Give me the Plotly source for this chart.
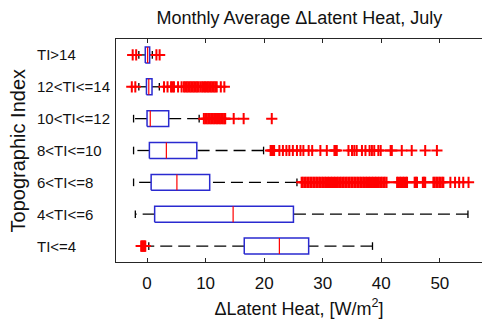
import plotly.graph_objects as go

# ---------------- data ----------------
categories = ["TI<=4", "4<TI<=6", "6<TI<=8", "8<TI<=10", "10<TI<=12", "12<TI<=14", "TI>14"]
q1 = [16.6, 1.3, 0.7, 0.4, 0.0, -0.1, -0.3]
medians = [22.6, 14.7, 5.1, 3.3, 0.55, 0.3, 0.1]
q3 = [27.6, 25.0, 10.7, 8.5, 3.7, 0.85, 0.45]
lower_whisker = [0.3, -2.0, -2.3, -2.3, -2.3, -1.4, -1.4]
upper_whisker = [38.5, 54.8, 25.6, 19.9, 8.9, 2.1, 0.9]

out_le4 = [-1.0, -0.85, -0.7, -0.55, -0.4, -0.3]
out_4_6 = []
out_6_8 = [26.4, 26.6, 26.9, 27.1, 27.4, 27.6, 27.9, 28.1, 28.4, 28.6, 28.9, 29.1,
           29.4, 29.6, 29.9, 30.1, 30.4, 30.6, 30.9, 31.1, 31.4, 31.6, 31.9, 32.1,
           32.4, 32.6, 32.9, 33.1, 33.4, 33.6, 33.9, 34.1, 34.4, 34.6, 34.9, 35.1,
           35.4, 35.6, 35.9, 36.1, 36.4, 36.6, 36.9, 37.1, 37.4, 37.6, 37.9, 38.1,
           38.4, 38.6, 38.9, 39.1, 39.4, 39.6, 39.9, 40.1, 40.4, 40.6, 40.9,
           42.7, 42.9, 43.2, 43.4, 43.7, 43.9, 44.2, 44.4,
           45.7, 45.9, 46.1, 47.1, 47.3, 47.5,
           48.9, 49.1, 49.4, 49.6, 49.9, 50.1, 50.4, 50.6,
           51.8, 52.6, 53.3, 54.0, 54.9]
out_8_10 = [21.1, 21.3, 21.5, 21.7, 22.6, 23.2, 23.8, 24.3, 24.9, 25.6, 26.2, 26.7,
            27.6, 28.2, 29.6, 30.7, 32.0, 32.2, 32.4, 34.4, 35.0, 35.4, 35.8,
            36.7, 37.3, 38.0, 38.4, 38.8, 39.5, 39.9, 41.6, 41.8,
            43.5, 45.2, 47.5, 49.5]
out_10_12 = [9.7, 9.95, 10.2, 10.45, 10.7, 10.95, 11.2, 11.45, 11.7, 11.95, 12.2,
             12.45, 12.7, 12.95, 13.2, 13.35, 14.8, 16.5, 21.3]
out_12_14 = [-2.6, -2.0, 2.9, 3.5, 4.1, 4.35, 4.6, 5.3, 5.9, 6.3, 6.55, 6.8, 7.05,
             7.3, 7.55, 7.8, 8.05, 8.3, 8.55, 8.8, 9.1, 9.4, 9.65, 9.9, 10.15, 10.4,
             10.65, 10.9, 11.15, 11.4, 11.65, 11.9, 12.6, 13.2]
out_gt14 = [-2.45, -1.85, 1.6, 2.15]
outliers = [out_le4, out_4_6, out_6_8, out_8_10, out_10_12, out_12_14, out_gt14]

x_ticks = [0, 10, 20, 30, 40, 50]

# ---------------- styles ----------------
HALF_BOX = 0.25
HALF_CAP = 0.12
BLUE = "#2a2ad0"
RED = "#ff0000"
BLACK = "#000000"
AXIS = "#262626"
FONT = "Liberation Sans, Arial, sans-serif"
NARROW = "Liberation Sans Narrow, Arial Narrow, Liberation Sans, sans-serif"

fig = go.Figure()

for i, cat in enumerate(categories):
    y = i + 1
    # whiskers (dashed)
    fig.add_trace(go.Scatter(x=[q1[i], lower_whisker[i]], y=[y, y], mode="lines",
                             line=dict(color=BLACK, width=1.3, dash="12px,6px"),
                             hoverinfo="skip", showlegend=False))
    fig.add_trace(go.Scatter(x=[upper_whisker[i], q3[i]], y=[y, y], mode="lines",
                             line=dict(color=BLACK, width=1.3, dash="12px,6px"),
                             hoverinfo="skip", showlegend=False))
    # whisker caps
    fig.add_trace(go.Scatter(x=[lower_whisker[i], lower_whisker[i], None,
                                upper_whisker[i], upper_whisker[i]],
                             y=[y - HALF_CAP, y + HALF_CAP, None, y - HALF_CAP, y + HALF_CAP],
                             mode="lines", line=dict(color=BLACK, width=1.3),
                             hoverinfo="skip", showlegend=False))
    # box
    fig.add_trace(go.Scatter(x=[q1[i], q3[i], q3[i], q1[i], q1[i]],
                             y=[y - HALF_BOX, y - HALF_BOX, y + HALF_BOX, y + HALF_BOX, y - HALF_BOX],
                             mode="lines", line=dict(color=BLUE, width=1.5),
                             hoverinfo="skip", showlegend=False))
    # median
    fig.add_trace(go.Scatter(x=[medians[i], medians[i]], y=[y - HALF_BOX, y + HALF_BOX],
                             mode="lines", line=dict(color=RED, width=1.2),
                             hoverinfo="skip", showlegend=False))
    # outliers
    if outliers[i]:
        fig.add_trace(go.Scatter(x=outliers[i], y=[y] * len(outliers[i]), mode="markers",
                                 marker=dict(symbol="cross-thin", size=8, color=RED,
                                             line=dict(color=RED, width=2)),
                                 hoverinfo="skip", showlegend=False))

annotations = []
for i, cat in enumerate(categories):
    annotations.append(dict(text=cat, x=-0.2213, xref="paper", xanchor="left",
                            y=i + 1, yref="y", yanchor="middle", showarrow=False,
                            font=dict(family=FONT, size=15, color="#111111")))
annotations.append(dict(text="Topographic Index", x=-0.268, xref="paper", xanchor="center",
                        y=0.5, yref="paper", yanchor="middle", textangle=-90,
                        showarrow=False, font=dict(family=FONT, size=20, color="#111111")))

fig.update_layout(
    width=482, height=323,
    margin=dict(l=116, r=0, t=39, b=61),
    paper_bgcolor="white", plot_bgcolor="white",
    title=dict(text="Monthly Average \u0394Latent Heat, July", x=0.621, xanchor="center",
               y=0.945, yanchor="middle", font=dict(family=FONT, size=18, color="#111111")),
    xaxis=dict(range=[-5.3, 57.2], tickvals=x_ticks, ticktext=[str(t) for t in x_ticks],
               ticks="inside", ticklen=4, tickwidth=1, tickcolor=AXIS,
               showline=True, linecolor=AXIS, linewidth=1.2, mirror="ticks",
               showgrid=False, zeroline=False, ticklabelstandoff=5,
               tickfont=dict(family=NARROW, size=17, color="#111111"),
               title=dict(text="\u0394Latent Heat, [W/m<sup>2</sup>]", standoff=10,
                          font=dict(family=FONT, size=18, color="#111111"))),
    yaxis=dict(range=[0.5, 7.5], showticklabels=False, ticks="",
               showline=True, linecolor=AXIS, linewidth=1.2, mirror=False,
               showgrid=False, zeroline=False),
    annotations=annotations,
)

fig.write_html("out.html")
